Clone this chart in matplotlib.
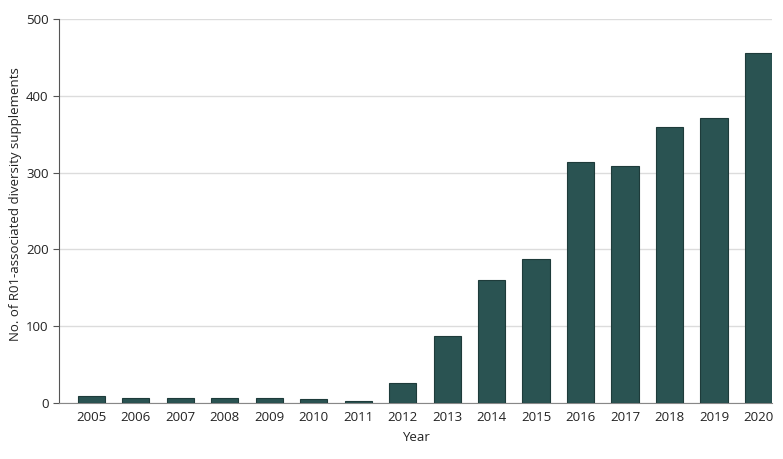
import matplotlib.pyplot as plt

# Data
years = ['2005', '2006', '2007', '2008', '2009', '2010', '2011', '2012',
         '2013', '2014', '2015', '2016', '2017', '2018', '2019', '2020']
supplements = [9, 7, 6, 6, 7, 5, 2, 26, 87, 160, 188, 314, 308, 360, 371, 456]
y_ticks = [0, 100, 200, 300, 400, 500]

plt.rcParams['font.family'] = ['Open Sans', 'DejaVu Sans']

fig = plt.figure(figsize=(7.83, 4.59), dpi=100)
ax = fig.add_axes([0.0754, 0.122, 0.9106, 0.8366])

positions = range(len(years))
ax.bar(positions, supplements, width=0.61, color='#2a5352',
       edgecolor='#1e3b3a', linewidth=0.8, zorder=3)

# Axes styling
ax.set_xlim(-0.724, 15.305)
ax.set_ylim(0, 500)
ax.set_yticks(y_ticks)
ax.set_xticks(list(positions))
ax.set_xticklabels(years)
ax.grid(axis='y', color='#dcdcdc', linewidth=1, zorder=0)
ax.spines['top'].set_visible(False)
ax.spines['right'].set_visible(False)
ax.spines['left'].set_color('#555555')
ax.spines['bottom'].set_color('#888888')
ax.tick_params(axis='x', length=0, pad=6, labelsize=9.5, colors='#222222')
ax.tick_params(axis='y', length=4, color='#555555', labelsize=9.5, colors='#222222')

ax.set_xlabel('Year', fontsize=9.5, color='#222222', labelpad=5)
ax.set_ylabel('No. of R01-associated diversity supplements', fontsize=9.5,
              color='#222222')
ax.yaxis.set_label_coords(-0.052, 0.518)

plt.savefig('out.png', dpi=100)
